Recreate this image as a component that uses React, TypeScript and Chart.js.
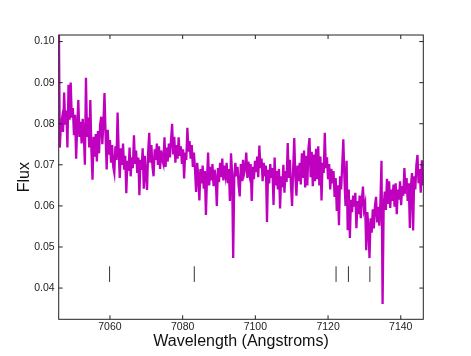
import { useEffect, useRef } from "react";
import { Chart, registerables } from "chart.js";

Chart.register(...registerables);

// Spectrum: uniform wavelength grid (Angstroms) and flux
const wavelengthStart = 7045.9;
const wavelengthStep = 0.3;
const flux = [
  0.1100,
  0.0742, 0.0795, 0.0812, 0.0780, 0.0876, 0.0798, 0.0832, 0.0742, 0.0895, 0.0810,
  0.0900, 0.0815, 0.0838, 0.0772, 0.0822, 0.0715, 0.0795, 0.0858, 0.0768, 0.0805,
  0.0752, 0.0812, 0.0778, 0.0700, 0.0912, 0.0768, 0.0815, 0.0742, 0.0858, 0.0735,
  0.0664, 0.0768, 0.0720, 0.0775, 0.0708, 0.0782, 0.0728, 0.0798, 0.0817, 0.0750,
  0.0802, 0.0875, 0.0772, 0.0689, 0.0785, 0.0725, 0.0760, 0.0705, 0.0748, 0.0695,
  0.0680, 0.0745, 0.0712, 0.0827, 0.0732, 0.0668, 0.0740, 0.0700, 0.0752, 0.0688,
  0.0722, 0.0631, 0.0710, 0.0685, 0.0742, 0.0672, 0.0718, 0.0692, 0.0772, 0.0702,
  0.0735, 0.0680, 0.0718, 0.0626, 0.0712, 0.0688, 0.0740, 0.0642, 0.0722, 0.0675,
  0.0639, 0.0730, 0.0778, 0.0705, 0.0748, 0.0695, 0.0672, 0.0738, 0.0712, 0.0752,
  0.0700, 0.0745, 0.0690, 0.0735, 0.0712, 0.0702, 0.0767, 0.0695, 0.0742, 0.0708,
  0.0752, 0.0718, 0.0760, 0.0800, 0.0725, 0.0768, 0.0705, 0.0748, 0.0715, 0.0767,
  0.0722, 0.0745, 0.0702, 0.0738, 0.0667, 0.0730, 0.0712, 0.0790, 0.0732, 0.0758,
  0.0715, 0.0748, 0.0695, 0.0730, 0.0688, 0.0634, 0.0705, 0.0672, 0.0613, 0.0690,
  0.0655, 0.0698, 0.0642, 0.0685, 0.0578, 0.0668, 0.0730, 0.0650, 0.0695, 0.0662,
  0.0702, 0.0648, 0.0688, 0.0665, 0.0600, 0.0692, 0.0658, 0.0705, 0.0670, 0.0715,
  0.0662, 0.0698, 0.0675, 0.0705, 0.0655, 0.0690, 0.0612, 0.0728, 0.0680, 0.0473,
  0.0668, 0.0705, 0.0672, 0.0695, 0.0650, 0.0623, 0.0702, 0.0660, 0.0712, 0.0678,
  0.0690, 0.0730, 0.0668, 0.0708, 0.0680, 0.0702, 0.0612, 0.0695, 0.0665, 0.0710,
  0.0682, 0.0720, 0.0670, 0.0747, 0.0692, 0.0715, 0.0660, 0.0705, 0.0672, 0.0698,
  0.0561, 0.0688, 0.0655, 0.0702, 0.0668, 0.0692, 0.0602, 0.0718, 0.0650, 0.0685,
  0.0640, 0.0690, 0.0594, 0.0672, 0.0645, 0.0700, 0.0632, 0.0685, 0.0658, 0.0753,
  0.0668, 0.0712, 0.0650, 0.0600, 0.0690, 0.0765, 0.0672, 0.0625, 0.0698, 0.0660,
  0.0705, 0.0652, 0.0728, 0.0668, 0.0735, 0.0645, 0.0722, 0.0650, 0.0740, 0.0765,
  0.0670, 0.0732, 0.0648, 0.0725, 0.0660, 0.0739, 0.0665, 0.0745, 0.0650, 0.0720,
  0.0613, 0.0705, 0.0680, 0.0778, 0.0692, 0.0718, 0.0665, 0.0702, 0.0640, 0.0690,
  0.0655, 0.0685, 0.0622, 0.0668, 0.0588, 0.0650, 0.0553, 0.0672, 0.0640, 0.0700,
  0.0762, 0.0668, 0.0600, 0.0710, 0.0541, 0.0640, 0.0522, 0.0615, 0.0585, 0.0625,
  0.0598, 0.0632, 0.0546, 0.0612, 0.0580, 0.0625, 0.0570, 0.0615, 0.0647, 0.0592,
  0.0605, 0.0492, 0.0585, 0.0548, 0.0473, 0.0570, 0.0535, 0.0592, 0.0545, 0.0600,
  0.0622, 0.0560, 0.0598, 0.0552, 0.0610, 0.0710, 0.0361, 0.0600, 0.0635, 0.0590,
  0.0666, 0.0605, 0.0660, 0.0595, 0.0640, 0.0612, 0.0652, 0.0598, 0.0655, 0.0580,
  0.0640, 0.0615, 0.0660, 0.0602, 0.0648, 0.0625, 0.0692, 0.0630, 0.0668, 0.0612,
  0.0655, 0.0546, 0.0650, 0.0680, 0.0540, 0.0672, 0.0640, 0.0700, 0.0724, 0.0655,
  0.0690, 0.0632, 0.0711, 0.0650, 0.0685,
];

// Line-identification marks
const markWavelengths = [7059.9, 7083.2, 7122.2, 7125.6, 7131.5];
const markBottom = 0.0415;
const markTop = 0.0453;

// Axes
const xTicks = [7060, 7080, 7100, 7120, 7140];
const yTicks = [0.04, 0.05, 0.06, 0.07, 0.08, 0.09, 0.1];
const xMin = 7045.9;
const xMax = 7146.2;
const yMin = 0.0324;
const yMax = 0.1016;

const FONT = "'Liberation Sans', Arial, Helvetica, sans-serif";

const framePlugin = {
  id: "frameTicks",
  afterDatasetsDraw(chart: any) {
    const { ctx, chartArea: a, scales } = chart;
    ctx.save();
    ctx.strokeStyle = "#222";
    ctx.lineWidth = 1;
    ctx.strokeRect(a.left, a.top, a.right - a.left, a.bottom - a.top);
    const L = 4;
    ctx.beginPath();
    xTicks.forEach((v) => {
      const px = scales.x.getPixelForValue(v);
      ctx.moveTo(px, a.bottom);
      ctx.lineTo(px, a.bottom - L);
      ctx.moveTo(px, a.top);
      ctx.lineTo(px, a.top + L);
    });
    yTicks.forEach((v) => {
      const py = scales.y.getPixelForValue(v);
      ctx.moveTo(a.left, py);
      ctx.lineTo(a.left + L, py);
      ctx.moveTo(a.right, py);
      ctx.lineTo(a.right - L, py);
    });
    ctx.stroke();
    ctx.restore();
  },
};

export default function App() {
  const ref = useRef<HTMLCanvasElement | null>(null);

  useEffect(() => {
    if (!ref.current) return;
    const spectrum = flux.map((f, i) => ({ x: wavelengthStart + i * wavelengthStep, y: f }));
    const marks: any[] = [];
    markWavelengths.forEach((w) => {
      marks.push({ x: w, y: markBottom }, { x: w, y: markTop }, { x: w, y: null });
    });

    const chart = new Chart(ref.current, {
      type: "line",
      data: {
        datasets: [
          {
            data: spectrum,
            borderColor: "#bf00bf",
            borderWidth: 2.3,
            pointRadius: 0,
            tension: 0,
            order: 1,
          },
          {
            data: marks,
            borderColor: "#333",
            borderWidth: 1,
            pointRadius: 0,
            spanGaps: false,
            order: 2,
          },
        ],
      },
      options: {
        animation: false,
        responsive: false,
        layout: { padding: { left: 0, top: 35, right: 47.7, bottom: 0 } },
        plugins: { legend: { display: false }, tooltip: { enabled: false } },
        scales: {
          x: {
            type: "linear",
            min: xMin,
            max: xMax,
            afterBuildTicks: (s: any) => {
              s.ticks = xTicks.map((v) => ({ value: v }));
            },
            afterFit: (s: any) => {
              s.height = 36.7;
            },
            grid: { display: false, drawTicks: false },
            border: { display: false },
            ticks: {
              autoSkip: false,
              maxRotation: 0,
              padding: 2,
              color: "#222",
              font: { family: FONT, size: 10.5 },
              callback: (v: any) => String(v),
            },
            title: {
              display: true,
              text: "Wavelength (Angstroms)",
              color: "#111",
              font: { family: FONT, size: 16 },
              padding: { top: 0, bottom: 4.4 },
            },
          },
          y: {
            type: "linear",
            min: yMin,
            max: yMax,
            afterBuildTicks: (s: any) => {
              s.ticks = yTicks.map((v) => ({ value: v }));
            },
            afterFit: (s: any) => {
              s.width = 58.7;
            },
            grid: { display: false, drawTicks: false },
            border: { display: false },
            ticks: {
              autoSkip: false,
              padding: 4,
              color: "#222",
              font: { family: FONT, size: 10.5 },
              callback: (v: any) => Number(v).toFixed(2),
            },
            title: {
              display: true,
              text: "Flux",
              color: "#111",
              font: { family: FONT, size: 16 },
              padding: { top: 15.4, bottom: 0 },
            },
          },
        },
      },
      plugins: [framePlugin],
    });
    return () => chart.destroy();
  }, []);

  return (
    <div style={{ position: "absolute", left: 0, top: 0, width: 471, height: 356, background: "#fff" }}>
      <canvas ref={ref} width={471} height={356} />
    </div>
  );
}
